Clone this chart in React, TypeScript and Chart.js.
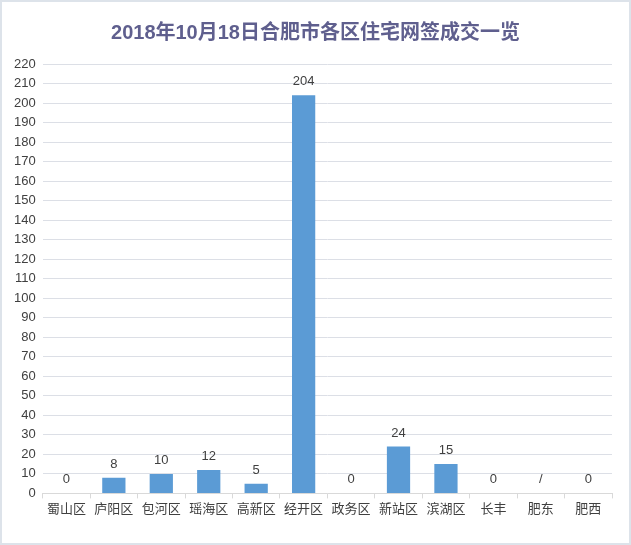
import React, { useEffect, useRef } from "react";
import { Chart, registerables } from "chart.js";

Chart.register(...registerables);

const categories = ["蜀山区", "庐阳区", "包河区", "瑶海区", "高新区", "经开区", "政务区", "新站区", "滨湖区", "长丰", "肥东", "肥西"];
const values: (number | null)[] = [0, 8, 10, 12, 5, 204, 0, 24, 15, 0, null, 0];
const valueLabels = ["0", "8", "10", "12", "5", "204", "0", "24", "15", "0", "/", "0"];
const titleText = "2018年10月18日合肥市各区住宅网签成交一览";

const FONT = "'Liberation Sans', Arial, 'Noto Sans CJK SC', sans-serif";

const labelPlugin = {
  id: "valueLabels",
  afterDatasetsDraw(chart: any) {
    const ctx = chart.ctx;
    const xs = chart.scales.x;
    const ys = chart.scales.y;
    ctx.save();
    ctx.font = `13px ${FONT}`;
    ctx.fillStyle = "#404040";
    ctx.textAlign = "center";
    ctx.textBaseline = "bottom";
    valueLabels.forEach((t, i) => {
      const v = values[i] ?? 0;
      const x = xs.getPixelForValue(i);
      const y = ys.getPixelForValue(v);
      ctx.fillText(t, x, y - 7);
    });
    // title
    ctx.font = `bold 20px ${FONT}`;
    ctx.fillStyle = "#5F5F8E";
    ctx.textBaseline = "middle";
    ctx.fillText(titleText, chart.width / 2, 33);
    ctx.restore();
  },
};

export default function App() {
  const ref = useRef<HTMLCanvasElement>(null);
  useEffect(() => {
    document.body.style.margin = "0";
    const chart = new Chart(ref.current!, {
      type: "bar",
      data: {
        labels: categories,
        datasets: [
          {
            data: values,
            backgroundColor: "#5B9BD5",
            categoryPercentage: 1,
            barPercentage: 0.49,
          },
        ],
      },
      options: {
        animation: false,
        responsive: false,
        layout: { padding: { left: 7, right: 19, top: 64, bottom: 25 } },
        plugins: {
          legend: { display: false },
          tooltip: { enabled: false },
          title: { display: false },
        },
        scales: {
          x: {
            offset: true,
            grid: {
              offset: true,
              drawOnChartArea: false,
              drawTicks: true,
              tickLength: 5,
              color: "#D9D9D9",
            },
            border: { color: "#D9D9D9" },
            ticks: {
              color: "#404040",
              font: { family: FONT, size: 13 },
              padding: 3,
              maxRotation: 0,
              autoSkip: false,
            },
          },
          y: {
            min: 0,
            max: 220,
            grid: { color: "#DCDFE6", drawTicks: false },
            border: { display: false },
            ticks: {
              stepSize: 10,
              color: "#404040",
              font: { family: FONT, size: 13 },
              padding: 7,
            },
          },
        },
      },
      plugins: [labelPlugin],
    });
    return () => chart.destroy();
  }, []);
  return (
    <div style={{ width: 631, height: 545, position: "relative", background: "#fff" }}>
      <canvas ref={ref} width={631} height={545} style={{ display: "block" }} />
      <div style={{ position: "absolute", inset: 0, border: "2px solid #DDE3EA", pointerEvents: "none" }} />
    </div>
  );
}
